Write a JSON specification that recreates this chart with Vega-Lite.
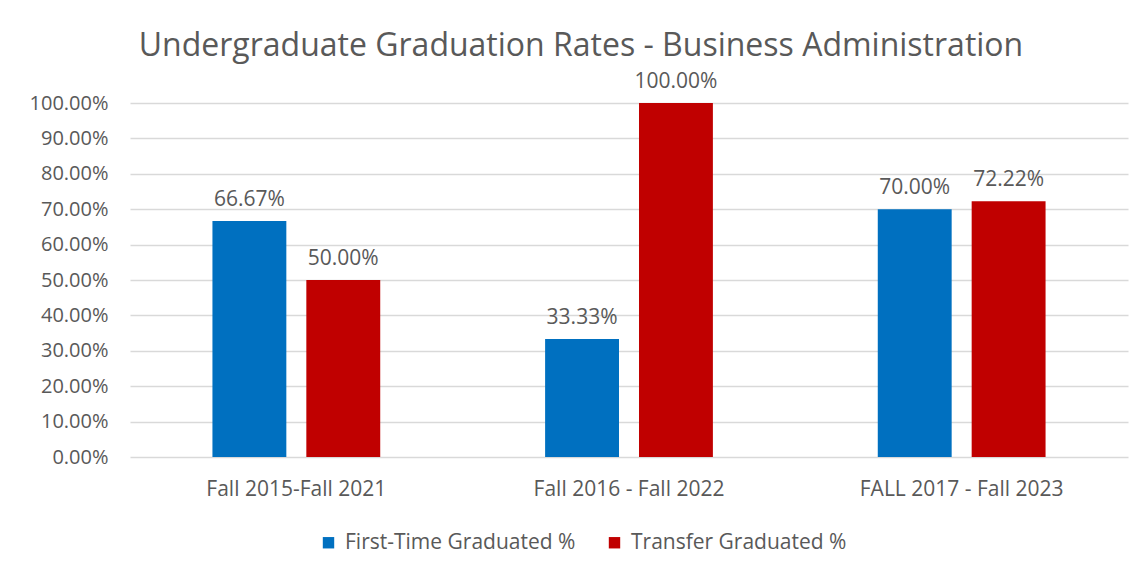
{
  "$schema": "https://vega.github.io/schema/vega-lite/v6.json",
  "width": 998,
  "height": 354,
  "autosize": "none",
  "padding": {"left": 130, "top": 103, "right": 13, "bottom": 118},
  "background": "white",
  "title": {
    "text": "Undergraduate Graduation Rates - Business Administration",
    "font": "Open Sans",
    "fontSize": 32,
    "fontWeight": "normal",
    "color": "#595959",
    "anchor": "middle",
    "dx": -48,
    "offset": 8
  },
  "data": {
    "values": [
      {"cohort": "Fall 2015-Fall 2021", "series": "First-Time Graduated %", "rate": 0.6667},
      {"cohort": "Fall 2015-Fall 2021", "series": "Transfer Graduated %", "rate": 0.5},
      {"cohort": "Fall 2016 - Fall 2022", "series": "First-Time Graduated %", "rate": 0.3333},
      {"cohort": "Fall 2016 - Fall 2022", "series": "Transfer Graduated %", "rate": 1.0},
      {"cohort": "FALL 2017 - Fall 2023", "series": "First-Time Graduated %", "rate": 0.7},
      {"cohort": "FALL 2017 - Fall 2023", "series": "Transfer Graduated %", "rate": 0.7222}
    ]
  },
  "encoding": {
    "x": {
      "field": "cohort", "type": "nominal", "sort": null,
      "scale": {"paddingInner": 0, "paddingOuter": 0},
      "axis": {"title": null, "labelAngle": 0, "labelFont": "Open Sans", "labelFontSize": 21, "labelColor": "#595959", "labelPadding": 21, "domain": false, "ticks": false, "grid": false, "labelLimit": 0}
    },
    "xOffset": {"field": "series", "type": "nominal", "scale": {"paddingInner": 0.213, "paddingOuter": 0.878}},
    "y": {
      "field": "rate", "type": "quantitative",
      "scale": {"domain": [0, 1]},
      "axis": {"title": null, "format": ".2%", "values": [0,0.1,0.2,0.3,0.4,0.5,0.6,0.7,0.8,0.9,1.0], "labelOverlap": false, "labelFont": "Open Sans", "labelFontSize": 20, "labelColor": "#595959", "labelPadding": 22, "domain": false, "ticks": false, "gridColor": "#d9d9d9", "gridWidth": 1.5}
    }
  },
  "layer": [
    {
      "mark": {"type": "bar"},
      "encoding": {
        "color": {
          "field": "series", "type": "nominal",
          "scale": {"domain": ["First-Time Graduated %", "Transfer Graduated %"], "range": ["#0070C0", "#C00000"]},
          "legend": {"title": null, "orient": "none", "direction": "horizontal", "legendX": 188, "legendY": 429, "symbolType": "square", "symbolSize": 130, "symbolStrokeWidth": 0, "labelFont": "Open Sans", "labelFontSize": 21, "labelColor": "#595959", "labelLimit": 0, "columnPadding": 28, "labelOffset": 6}
        }
      }
    },
    {
      "mark": {"type": "text", "baseline": "bottom", "dy": -11, "font": "Open Sans", "fontSize": 21, "color": "#595959"},
      "encoding": {
        "text": {"field": "rate", "type": "quantitative", "format": ".2%"}
      }
    }
  ],
  "config": {"view": {"stroke": null}}
}
